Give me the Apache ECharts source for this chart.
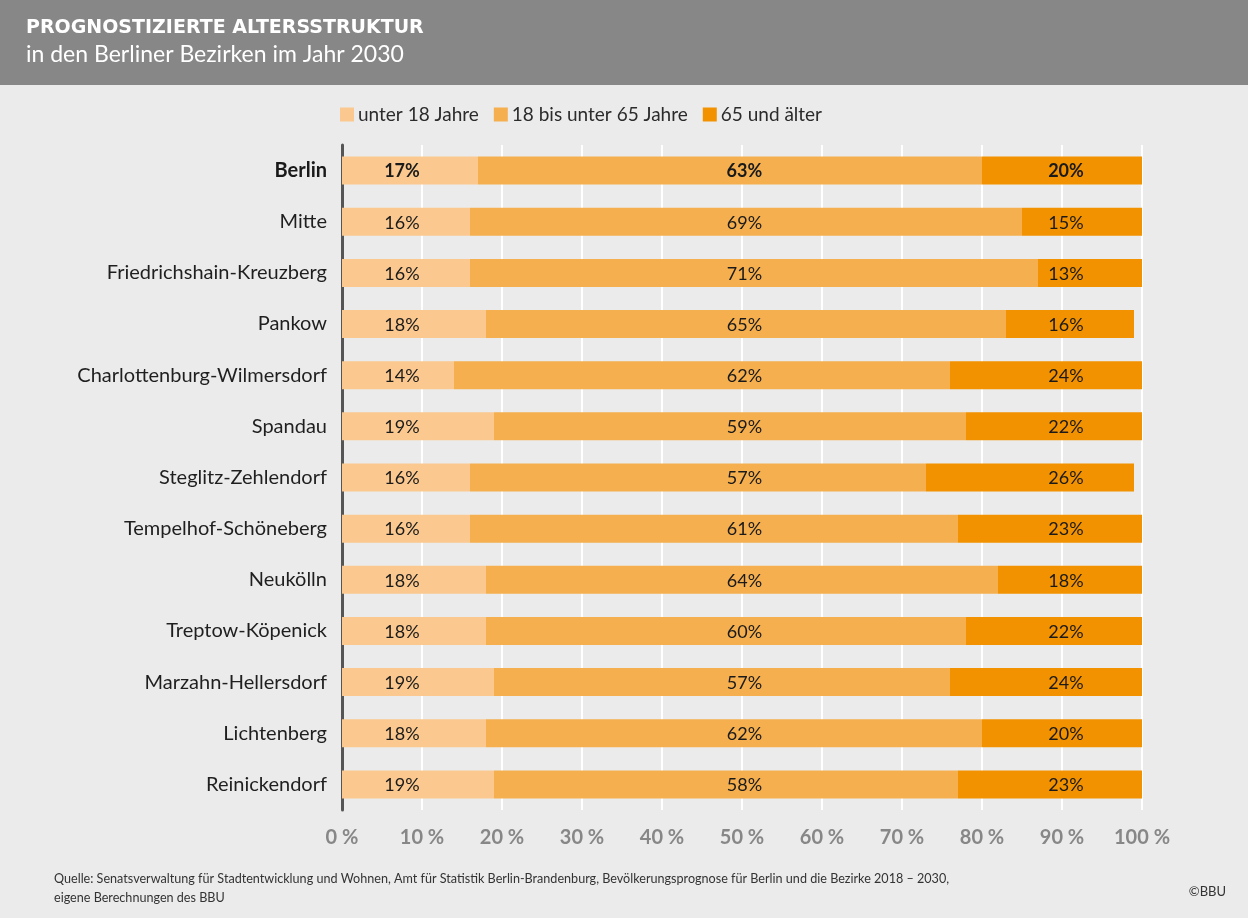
<!DOCTYPE html>
<html>
<head>
<meta charset="utf-8">
<script src="https://cdn.jsdelivr.net/npm/echarts@6/dist/echarts.min.js"></script>
<style>
  html, body { margin: 0; padding: 0; background: #ebebeb; }
  #chart { width: 1248px; height: 918px; }
</style>
</head>
<body>
<div id="chart"></div>
<script>
// Projected age structure in Berlin's districts, 2030 (shares in %)
const districts = [
  'Berlin', 'Mitte', 'Friedrichshain-Kreuzberg', 'Pankow',
  'Charlottenburg-Wilmersdorf', 'Spandau', 'Steglitz-Zehlendorf',
  'Tempelhof-Schöneberg', 'Neukölln', 'Treptow-Köpenick',
  'Marzahn-Hellersdorf', 'Lichtenberg', 'Reinickendorf'
];
const under18   = [17, 16, 16, 18, 14, 19, 16, 16, 18, 18, 19, 18, 19];
const age18to64 = [63, 69, 71, 65, 62, 59, 57, 61, 64, 60, 57, 62, 58];
const age65plus = [20, 15, 13, 16, 24, 22, 26, 23, 18, 22, 24, 20, 23];
const seriesNames = ['unter 18 Jahre', '18 bis unter 65 Jahre', '65 und älter'];
const tickValues = [0, 10, 20, 30, 40, 50, 60, 70, 80, 90, 100];

const FONT = 'Lato, "Open Sans", sans-serif';
const TITLE_FONT = '"DejaVu Sans", sans-serif';
const colors = ['#fbc98f', '#f5af4f', '#f39200'];
const GRID = { left: 342, top: 145, width: 800, height: 665 };
// value labels sit in fixed columns, one per age group (axis value in %)
const labelColumns = [7.5, 50.3, 90.5];

const chart = echarts.init(document.getElementById('chart'), null, { renderer: 'canvas' });

function makeSeries(name, values, idx) {
  return {
    name: name,
    type: 'bar',
    stack: 'total',
    barWidth: 28,
    itemStyle: { color: colors[idx] },
    data: values.map((v, i) => ({
      value: v,
      label: i === 0 ? { fontWeight: 'bold' } : {}
    })),
    label: {
      show: true,
      position: 'inside',
      formatter: p => p.value + '%',
      fontFamily: FONT,
      fontSize: 18,
      color: '#1a1a1a'
    },
    labelLayout: function (params) {
      return {
        x: GRID.left + GRID.width * labelColumns[idx] / 100,
        y: params.rect.y + params.rect.height / 2 + 1,
        align: 'center',
        verticalAlign: 'middle'
      };
    },
    emphasis: { disabled: true }
  };
}

chart.setOption({
  backgroundColor: '#ebebeb',
  animation: false,
  textStyle: { fontFamily: FONT },
  graphic: [
    { type: 'rect', left: 0, top: 0, shape: { width: 1248, height: 85 }, style: { fill: '#878787' }, z: 0 },
    { type: 'text', left: 26, top: 19, style: { text: 'PROGNOSTIZIERTE ALTERSSTRUKTUR', fill: '#ffffff', font: 'bold 19px ' + TITLE_FONT } },
    { type: 'text', left: 26, top: 43, style: { text: 'in den Berliner Bezirken im Jahr 2030', fill: '#ffffff', font: '23px ' + FONT } },
    { type: 'text', left: 54, top: 869, style: { text: 'Quelle: Senatsverwaltung für Stadtentwicklung und Wohnen, Amt für Statistik Berlin-Brandenburg, Bevölkerungsprognose für Berlin und die Bezirke 2018 – 2030,\neigene Berechnungen des BBU', fill: '#333333', font: '12.6px ' + FONT, lineHeight: 19 } },
    { type: 'text', right: 22, top: 885, style: { text: '©BBU', fill: '#333333', font: '13px ' + FONT } }
  ],
  legend: {
    left: 335,
    top: 100,
    itemWidth: 14,
    itemHeight: 14,
    itemGap: 15,
    icon: 'rect',
    selectedMode: false,
    textStyle: { fontFamily: FONT, fontSize: 19, color: '#2b2b2b', padding: [0, 0, 0, -1] },
    data: seriesNames
  },
  grid: GRID,
  xAxis: {
    type: 'value',
    min: 0,
    max: 100,
    interval: 10,
    axisLine: { show: false },
    axisTick: { show: false },
    splitLine: { show: true, lineStyle: { color: '#ffffff', width: 2 } },
    axisLabel: {
      margin: 18,
      fontFamily: FONT,
      fontSize: 20,
      fontWeight: 'bold',
      color: '#878787',
      customValues: tickValues,
      formatter: v => v + ' %'
    }
  },
  yAxis: {
    type: 'category',
    inverse: true,
    data: districts,
    axisLine: { show: true, lineStyle: { color: '#555555', width: 3 } },
    axisTick: { show: false },
    axisLabel: {
      margin: 15,
      fontFamily: FONT,
      fontSize: 20,
      color: '#1f1f1f',
      formatter: (v, i) => i === 0 ? '{b|' + v + '}' : v,
      rich: { b: { fontWeight: 'bold', fontFamily: FONT, fontSize: 20, color: '#1a1a1a' } }
    }
  },
  series: [
    makeSeries(seriesNames[0], under18, 0),
    makeSeries(seriesNames[1], age18to64, 1),
    makeSeries(seriesNames[2], age65plus, 2)
  ]
});
</script>
</body>
</html>
